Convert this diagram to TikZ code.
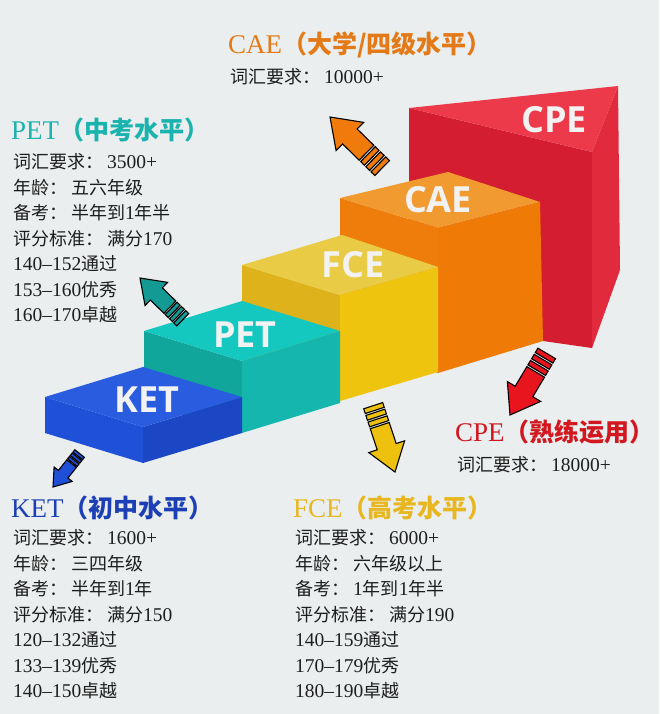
\documentclass[tikz,border=0pt]{standalone}
\usepackage{fontspec}
\setmainfont{Liberation Serif}
\newfontfamily\cj{Noto Sans CJK SC}
\newfontfamily\labfont{Open Sans}
\definecolor{bg}{HTML}{EAEEEE}
\definecolor{labwhite}{HTML}{F2F2F2}
\definecolor{bodyc}{HTML}{1E1E1E}
\definecolor{ketT}{HTML}{2A5CE0}\definecolor{ketL}{HTML}{1E50D8}\definecolor{ketR}{HTML}{1B46C4}
\definecolor{petT}{HTML}{14C8C0}\definecolor{petL}{HTML}{10A69C}\definecolor{petR}{HTML}{14B6AD}
\definecolor{fceT}{HTML}{EACB45}\definecolor{fceL}{HTML}{DDB21A}\definecolor{fceR}{HTML}{EEC40E}
\definecolor{caeT}{HTML}{F19A30}\definecolor{caeL}{HTML}{EF7D0B}\definecolor{caeR}{HTML}{F07A06}
\definecolor{cpeT}{HTML}{EC3A4A}\definecolor{cpeF}{HTML}{D41D31}\definecolor{cpeR}{HTML}{E12A3C}
\definecolor{ketC}{HTML}{1D3FB5}
\definecolor{petC}{HTML}{1AB3AE}
\definecolor{fceC}{HTML}{E8B61E}
\definecolor{caeC}{HTML}{E37A17}
\definecolor{cpeC}{HTML}{D2171F}
\definecolor{arrK}{HTML}{1E4FD6}
\definecolor{arrP}{HTML}{149A94}
\definecolor{arrF}{HTML}{EEC10E}
\definecolor{arrA}{HTML}{F07A0A}
\definecolor{arrC}{HTML}{E8141E}
\newcommand\zh[1]{{\fontsize{18}{25.5}\selectfont\cj #1}}
\newcommand\zhb[1]{{\fontsize{25}{30}\selectfont\cj\bfseries #1}}
\newcommand\lat[1]{{\fontsize{27}{30}\selectfont #1}}
\newcommand\blockarrow[4]{% tip coordinate, angle, scale, colour
  \begin{scope}[shift={(#1)},rotate=#2,scale=#3]
    \filldraw[arrowline,fill=#4] (0,0) -- (24,17) -- (24,9) -- (44,9) -- (44,-9) -- (24,-9) -- (24,-17) -- cycle;
    \foreach \a in {45.8,52.1,58.4}
      \filldraw[arrowline,fill=#4] (\a,-9) rectangle ++(4.5,18);
  \end{scope}}
\tikzset{
  blocklabel/.style={font=\labfont\bfseries\fontsize{36}{40}\selectfont, text=labwhite, inner sep=0pt, anchor=center},
  titletext/.style={inner sep=0pt, anchor=base west},
  bodytext/.style={inner sep=0pt, anchor=base west, text=bodyc, font=\fontsize{19.5}{25.5}\selectfont},
  arrowline/.style={draw=black, line width=1.1pt, line join=miter},
}
\begin{document}
\begin{tikzpicture}[x=1pt,y=-1pt]
\useasboundingbox (0,0) rectangle (659,714);
\fill[bg] (0,0) rectangle (659,714);
% CPE
\fill[cpeF] (409,108) -- (592,152) -- (592,348) -- (543,341) -- (409,320) -- cycle;
\fill[cpeR] (592,152) -- (618,86) -- (620,270) -- (592,348) -- cycle;
\fill[cpeT] (409,108) -- (618,86) -- (592,152) -- cycle;
% CAE
\fill[caeL] (340,198) -- (438,228) -- (438,373) -- (340,343) -- cycle;
\fill[caeR] (438,228) -- (540,202) -- (543,341) -- (438,373) -- cycle;
\fill[caeT] (340,198) -- (448,172) -- (540,202) -- (438,228) -- cycle;
% FCE
\fill[fceL] (242,265) -- (340,295) -- (340,401) -- (242,371) -- cycle;
\fill[fceR] (340,295) -- (438,267) -- (438,372) -- (340,401) -- cycle;
\fill[fceT] (242,265) -- (342,235) -- (438,267) -- (340,295) -- cycle;
% PET
\fill[petL] (144,331) -- (242,361) -- (242,433) -- (144,403) -- cycle;
\fill[petR] (242,361) -- (340,331) -- (340,403) -- (242,433) -- cycle;
\fill[petT] (144,331) -- (242,301) -- (340,331) -- (242,361) -- cycle;
% KET
\fill[ketL] (45,397) -- (143,427) -- (143,463) -- (45,433) -- cycle;
\fill[ketR] (143,427) -- (242,397) -- (242,433) -- (143,463) -- cycle;
\fill[ketT] (45,397) -- (143,367) -- (242,397) -- (143,427) -- cycle;
% block labels
\node[blocklabel] (ketlab) at (147,400) {KET};
\node[blocklabel] (petlab) at (245,335) {PET};
\node[blocklabel] (fcelab) at (353,265) {FCE};
\node[blocklabel] (caelab) at (438,200) {CAE};
\node[blocklabel] (cpelab) at (554,120) {CPE};
% arrows
\coordinate (caetip) at (330,117);
\coordinate (pettip) at (140,278);
\coordinate (kettip) at (53,487);
\coordinate (fcetip) at (395,472);
\coordinate (cpetip) at (510,415);
\blockarrow{caetip}{-44.4}{1.16}{arrA}
\blockarrow{pettip}{-44.3}{0.95}{arrP}
\blockarrow{kettip}{51.5}{0.68}{arrK}
\blockarrow{fcetip}{108.2}{1.11}{arrF}
\blockarrow{cpetip}{59.2}{1.14}{arrC}
% CAE text
\node[titletext,text=caeC] (caetitle) at (228,54) {\lat{CAE}\zhb{（大学/四级水平）}};
\node[bodytext] (caebody) at (230,83.7) {\begin{tabular}[t]{@{}l@{}}\zh{词汇要求：}\hspace{4pt}10000+\end{tabular}};
% PET text
\node[titletext,text=petC] (pettitle) at (11,140) {\lat{PET}\zhb{（中考水平）}};
\node[bodytext] (petbody) at (13,168.7) {\begin{tabular}[t]{@{}l@{}}
\zh{词汇要求：}\hspace{4pt}3500+\\
\zh{年龄：}\hspace{4pt}\zh{五六年级}\\
\zh{备考：}\hspace{4pt}\zh{半年到}1\zh{年半}\\
\zh{评分标准：}\hspace{4pt}\zh{满分}170\\
140--152\zh{通过}\\
153--160\zh{优秀}\\
160--170\zh{卓越}
\end{tabular}};
% KET text
\node[titletext,text=ketC] (kettitle) at (11,517) {\lat{KET}\zhb{（初中水平）}};
\node[bodytext] (ketbody) at (13,544.7) {\begin{tabular}[t]{@{}l@{}}
\zh{词汇要求：}\hspace{4pt}1600+\\
\zh{年龄：}\hspace{4pt}\zh{三四年级}\\
\zh{备考：}\hspace{4pt}\zh{半年到}1\zh{年}\\
\zh{评分标准：}\hspace{4pt}\zh{满分}150\\
120--132\zh{通过}\\
133--139\zh{优秀}\\
140--150\zh{卓越}
\end{tabular}};
% FCE text
\node[titletext,text=fceC] (fcetitle) at (293,517) {\lat{FCE}\zhb{（高考水平）}};
\node[bodytext] (fcebody) at (295,544.7) {\begin{tabular}[t]{@{}l@{}}
\zh{词汇要求：}\hspace{4pt}6000+\\
\zh{年龄：}\hspace{4pt}\zh{六年级以上}\\
\zh{备考：}\hspace{4pt}1\zh{年到}1\zh{年半}\\
\zh{评分标准：}\hspace{4pt}\zh{满分}190\\
140--159\zh{通过}\\
170--179\zh{优秀}\\
180--190\zh{卓越}
\end{tabular}};
% CPE text
\node[titletext,text=cpeC] (cpetitle) at (455,441) {\lat{CPE}\zhb{（熟练运用）}};
\node[bodytext] (cpebody) at (457,471.7) {\begin{tabular}[t]{@{}l@{}}\zh{词汇要求：}\hspace{4pt}18000+\end{tabular}};
\end{tikzpicture}
\end{document}
